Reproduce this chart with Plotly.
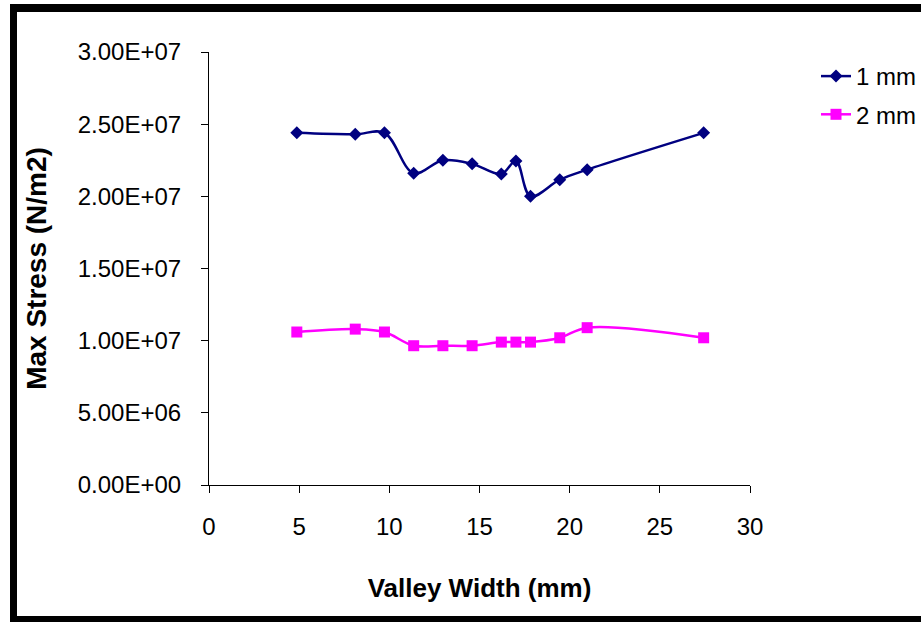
import plotly.graph_objects as go

# Valley width (mm) for each simulated profile
valley_width = [4.87, 8.11, 9.73, 11.35, 12.97, 14.59, 16.21, 17.02, 17.83, 19.45, 20.97, 27.43]

# Maximum stress (N/m2) for the two thicknesses
stress_1mm = [2.44e7, 2.43e7, 2.44e7, 2.16e7, 2.25e7, 2.225e7, 2.155e7, 2.245e7, 2.00e7, 2.115e7, 2.185e7, 2.44e7]
stress_2mm = [1.06e7, 1.08e7, 1.06e7, 0.965e7, 0.965e7, 0.965e7, 0.99e7, 0.99e7, 0.99e7, 1.02e7, 1.09e7, 1.02e7]

# Axis ticks
y_tick_vals = [0, 5e6, 1e7, 1.5e7, 2e7, 2.5e7, 3e7]
y_tick_text = ["0.00E+00", "5.00E+06", "1.00E+07", "1.50E+07", "2.00E+07", "2.50E+07", "3.00E+07"]
x_tick_vals = [0, 5, 10, 15, 20, 25, 30]

W, H = 921, 622
L, R, T, B = 209, 750, 52, 485  # plot area in pixels
FONT = "Liberation Sans, Arial, sans-serif"


def px_x(p):
    return (p - L) / (R - L)


def px_y(p):
    return (B - p) / (B - T)


fig = go.Figure()
fig.add_trace(go.Scatter(
    x=valley_width, y=stress_1mm, name="1 mm", legendgroup="a",
    mode="lines+markers", line=dict(color="#000080", width=2.5, shape="spline"),
    marker=dict(symbol="diamond", size=10, color="#000080"),
))
fig.add_trace(go.Scatter(
    x=valley_width, y=stress_2mm, name="2 mm", legendgroup="b",
    mode="lines+markers", line=dict(color="#FF00FF", width=2.5, shape="spline"),
    marker=dict(symbol="square", size=11, color="#FF00FF"),
))

# Black frame on the top, left and bottom edges
frame = [(10, 4, W + 2, 12), (10, 4, 17, H + 2), (10, 616, W + 2, H + 2)]
shapes = [
    dict(type="rect", xref="paper", yref="paper",
         x0=px_x(x0), x1=px_x(x1), y0=px_y(y1), y1=px_y(y0),
         fillcolor="black", line=dict(width=0), layer="above")
    for x0, y0, x1, y1 in frame
]

fig.update_layout(
    width=W, height=H,
    margin=dict(l=L, r=W - R, t=T, b=H - B, pad=0, autoexpand=False),
    paper_bgcolor="white", plot_bgcolor="white",
    font=dict(family=FONT, size=24, color="black"),
    showlegend=True,
    legend=dict(x=px_x(816), y=px_y(54), xanchor="left", yanchor="top",
                traceorder="grouped", tracegroupgap=4,
                font=dict(size=24), bgcolor="rgba(0,0,0,0)", borderwidth=0),
    shapes=shapes,
    xaxis=dict(
        range=[0, 30], tickvals=x_tick_vals, showgrid=False, zeroline=False,
        showline=True, linecolor="black", linewidth=1,
        ticks="outside", ticklen=7, tickcolor="black", tickwidth=1,
        tickfont=dict(size=24), ticklabelstandoff=13,
        title=dict(text="<b>Valley Width (mm)</b>", font=dict(size=26), standoff=40),
    ),
    yaxis=dict(
        range=[0, 3e7], tickvals=y_tick_vals, ticktext=y_tick_text,
        showgrid=False, zeroline=False,
        showline=True, linecolor="black", linewidth=1,
        ticks="outside", ticklen=7, tickcolor="black", tickwidth=1,
        tickfont=dict(size=24), ticklabelstandoff=15,
        title=dict(text="<b>Max Stress (N/m2)</b>", font=dict(size=28), standoff=22),
    ),
)

fig.write_html("out.html")
